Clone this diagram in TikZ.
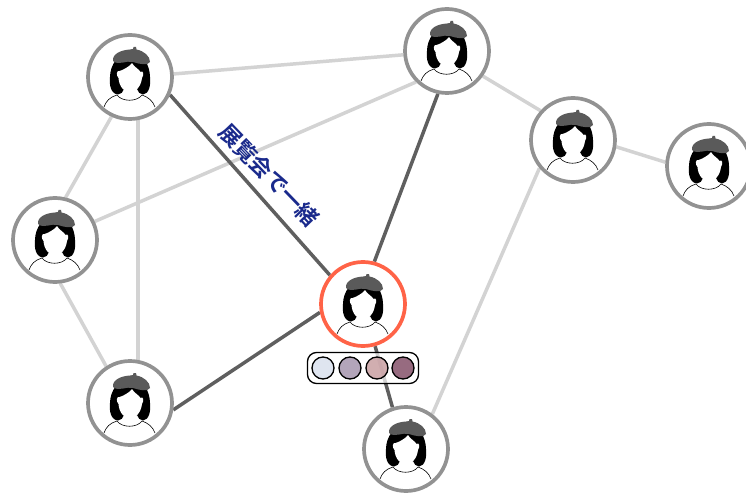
\documentclass[tikz,border=0pt]{standalone}
\usepackage{fontspec}
\newfontfamily\cjk{Noto Sans CJK JP}[BoldFont={Noto Sans CJK JP Bold}]
\usetikzlibrary{backgrounds}
\definecolor{ringc}{HTML}{929292}
\definecolor{focusc}{HTML}{FF6347}
\definecolor{strongc}{HTML}{5F5F5F}
\definecolor{weakc}{HTML}{D3D3D3}
\definecolor{beretc}{HTML}{5A5A5A}
\definecolor{labelc}{HTML}{1A2A8C}
\definecolor{swa}{HTML}{DFE5F0}
\definecolor{swb}{HTML}{B3A5BA}
\definecolor{swc}{HTML}{CBA3A6}
\definecolor{swd}{HTML}{976B80}
\tikzset{
  person/.style={circle,draw=ringc,line width=3.7pt,fill=white,minimum size=84pt,inner sep=0pt},
  focus/.style={person,draw=focusc},
  strong/.style={draw=strongc,line width=3.5pt},
  weak/.style={draw=weakc,line width=3.5pt},
  swatch/.style={circle,draw=black,line width=1.3pt,minimum size=22pt,inner sep=0pt},
  pill/.style={draw=black,line width=1.3pt,rounded corners=9pt,fill=white,fill opacity=.72,draw opacity=1,minimum width=111pt,minimum height=31pt,inner sep=0pt},
  avatar/.pic={
    % hair
    \fill[black] (-14,-17) .. controls (-18,-12) and (-20,-6) .. (-20,0)
      .. controls (-21,8) and (-19,17) .. (-12,17.5) .. controls (-9,17.5) and (-7,15) .. (-6,12)
      -- (7,12) .. controls (8,15) and (10,17.5) .. (13,17.5) .. controls (19,17) and (21,8) .. (20,0)
      .. controls (20,-6) and (18,-12) .. (15,-17) -- cycle;
    % face
    \fill[white] (-10.5,-6) .. controls (-7,-7) and (-1,-10) .. (2,-14)
      .. controls (4,-10) and (9,-8) .. (10.5,-5)
      .. controls (13,-7) and (14.5,-3) .. (12,1)
      .. controls (11,9) and (6,15.5) .. (0,15.5) .. controls (-6,15.5) and (-11,9) .. (-11.5,1)
      .. controls (-14.5,-2) and (-13,-7) .. (-10.5,-6) -- cycle;
    % shoulders
    \draw[black,line width=.6pt,fill=white] (-26,30) .. controls (-24,24) and (-20,20) .. (-13,18)
      .. controls (-8,25) and (7,25) .. (12,18)
      .. controls (18,20) and (23,24) .. (25,30);
    % beret
    \fill[beretc] (-17,-16) .. controls (-18,-23) and (-9,-27) .. (0,-27.5)
      -- (3,-28) -- (3.5,-30) -- (6,-30) -- (6.5,-27.5)
      .. controls (14,-26) and (20,-21) .. (20,-15)
      .. controls (18,-11) and (9,-13) .. (3,-15) .. controls (-4,-17) and (-11,-11) .. (-17,-16) -- cycle;
  }
}
\begin{document}
\begin{tikzpicture}[x=1pt,y=-1pt]
\useasboundingbox (0,0) rectangle (746,494);
\node[person] (a) at (130,77) {};
\node[person] (b) at (447,51) {};
\node[person] (c) at (573,140) {};
\node[person] (d) at (709,166) {};
\node[person] (e) at (55,240) {};
\node[focus]  (f) at (363,304) {};
\node[person] (g) at (130,403) {};
\node[person] (h) at (406,449) {};
\foreach \n in {a,b,c,d,e,f,g,h} \pic at (\n) {avatar};
\begin{scope}[on background layer]
  \draw[weak] (a.4) -- (b.185);
  \draw[weak] (b.225) -- (e.25);
  \draw[weak] (b.-35) -- (c.138);
  \draw[weak] (c.-9) -- (d.175);
  \draw[weak] (c.220) -- (h.53);
  \draw[weak] (a.245) -- (e.76);
  \draw[weak,line width=4pt] (a.-80) -- (g.80);
  \draw[weak] (e.-83) -- (g.123);
  \draw[strong] (a.-24) -- (f.139);
  \draw[strong] (b.258) -- (f.75);
  \draw[strong] (f.191) -- (g.-9);
  \draw[strong] (f.-74) -- (h.108);
\end{scope}
\node[rotate=-46,text=labelc,font=\cjk\bfseries\fontsize{22}{22}\selectfont,inner sep=0pt] (lab) at (269,175) {展覧会で一緒};
\node[pill] (p) at (363,368) {};
\node[swatch,fill=swa] (s1) at (323,368) {};
\node[swatch,fill=swb] (s2) at (350,368) {};
\node[swatch,fill=swc,fill opacity=.88] (s3) at (377,368) {};
\node[swatch,fill=swd] (s4) at (403,368) {};
\end{tikzpicture}
\end{document}
